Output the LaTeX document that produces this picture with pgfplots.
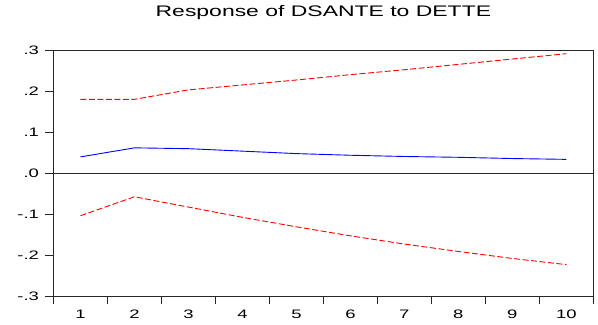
\documentclass[border=0pt]{standalone}
\usepackage{fontspec}
\setmainfont[FakeStretch=1.5]{Liberation Sans}
\usepackage{pgfplots}
\pgfplotsset{compat=1.18}

% impulse response and its +/- 2 S.E. band
\pgfplotstableread{
h   resp   upper   lower
1   0.040  0.180  -0.103
2   0.062  0.180  -0.057
3   0.060  0.203  -0.082
4   0.054  0.215  -0.107
5   0.048  0.227  -0.130
6   0.044  0.240  -0.152
7   0.041  0.252  -0.172
8   0.039  0.265  -0.190
9   0.036  0.278  -0.207
10  0.034  0.291  -0.222
}\irf

\begin{document}
\begin{tikzpicture}
\begin{axis}[
  scale only axis,
  width=539.8pt, height=246.7pt,
  xmin=0.5, xmax=10.5,
  ymin=-0.3, ymax=0.3,
  axis line style={black!85, line width=0.9pt},
  axis x line*=bottom, axis y line*=left,
  tick align=outside,
  xtick={1,2,...,10},
  major x tick style={draw=none},
  minor xtick={0.5,1.5,...,10.5},
  minor tick length=7pt,
  minor x tick style={black!85, line width=0.9pt},
  ytick={-0.3,-0.2,-0.1,0,0.1,0.2,0.3},
  yticklabels={\mbox{-.3},\mbox{-.2},\mbox{-.1},\mbox{.0},\mbox{.1},\mbox{.2},\mbox{.3}},
  major tick length=8pt,
  major y tick style={black!85, line width=0.9pt},
  /pgf/number format/assume math mode=true,
  tick label style={font=\fontsize{12.3}{14}\selectfont, black},
  xticklabel style={yshift=-2pt},
  yticklabel style={anchor=east, xshift=-3pt},
  title={Response of DSANTE to DETTE},
  title style={font=\fontsize{15.3}{18}\selectfont, at={(rel axis cs:0.5,1)}, anchor=base, yshift=27pt},
  clip=false,
]
% box top and right edge
\addplot [black!85, line width=0.9pt, forget plot] coordinates {(0.5,0.3) (10.5,0.3) (10.5,-0.3)};
\addplot [black!85, line width=0.9pt, forget plot] coordinates {(0.5,0) (10.5,0)};
\addplot [red, line width=0.9pt, dash pattern=on 6pt off 2.5pt] table[x=h, y=upper] {\irf};
\addplot [blue, line width=0.9pt] table[x=h, y=resp] {\irf};
\addplot [red, line width=0.9pt, dash pattern=on 6pt off 2.5pt] table[x=h, y=lower] {\irf};
\end{axis}
\path ([xshift=-53.5pt,yshift=-28.3pt]current axis.south west) rectangle ([xshift=4.7pt,yshift=50pt]current axis.north east);
\end{tikzpicture}
\end{document}
